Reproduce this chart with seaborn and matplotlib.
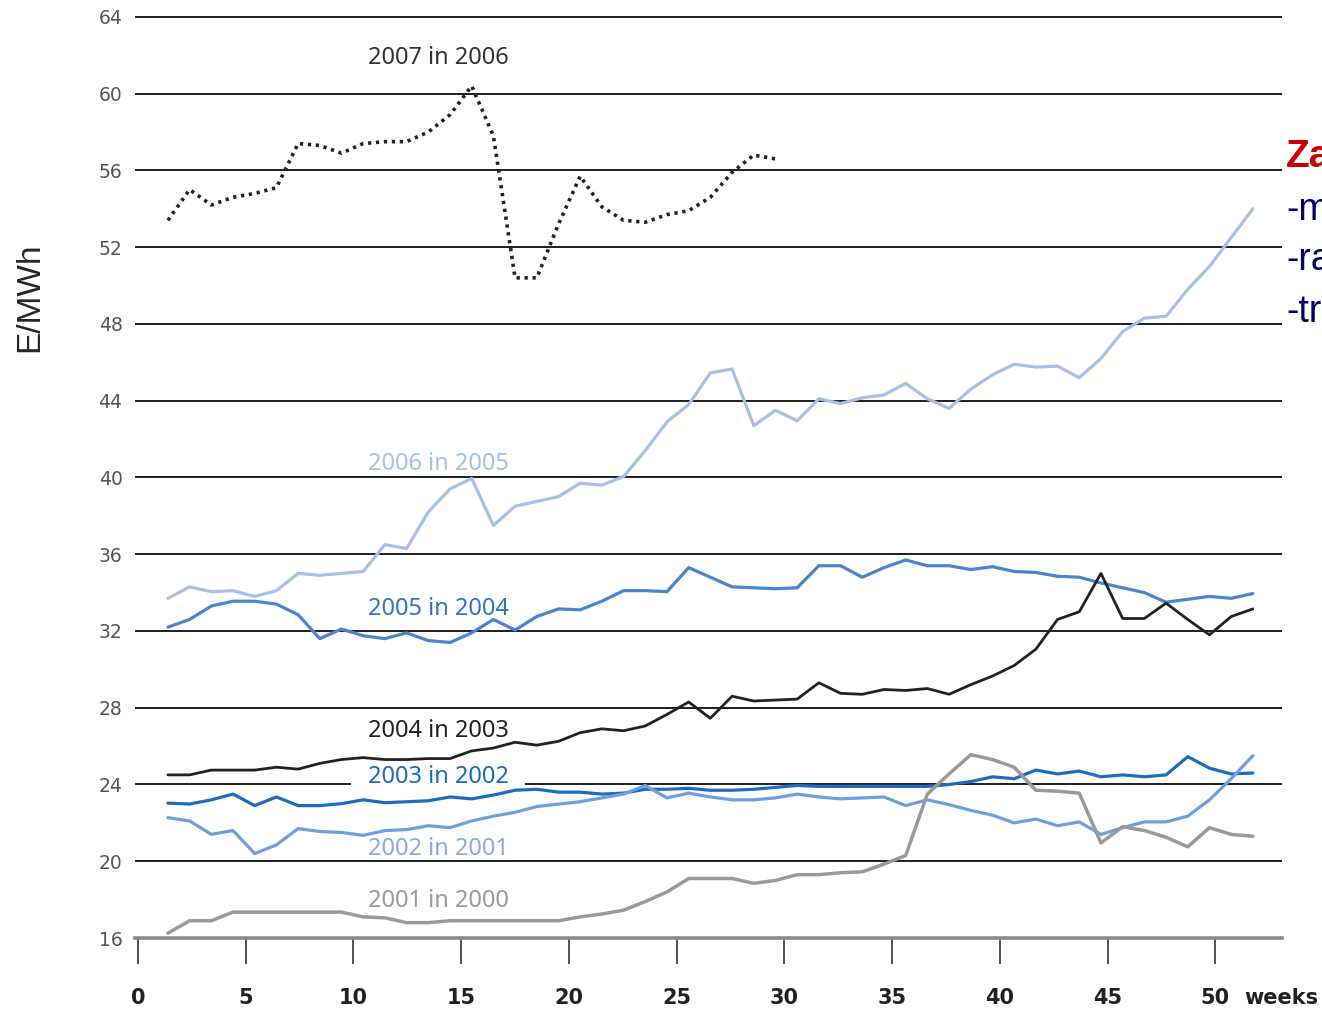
import numpy as np
import pandas as pd
import matplotlib
matplotlib.use("Agg")
import matplotlib.pyplot as plt
import seaborn as sns

# tedenske cene (E/MWh), ena vrsta na leto
weeks = np.arange(1, 52)

p2007 = [53.4, 55.0, 54.2, 54.6, 54.8, 55.1, 57.4, 57.3, 56.9, 57.4,
         57.5, 57.5, 58.0, 58.9, 60.4, 57.8, 50.4, 50.4, 53.2, 55.7,
         54.1, 53.4, 53.3, 53.7, 53.9, 54.6, 55.9, 56.8, 56.6]

p2006 = [33.7, 34.3, 34.05, 34.1, 33.8, 34.1, 35.0, 34.9, 35.0, 35.1,
         36.5, 36.3, 38.2, 39.4, 39.95, 37.5, 38.5, 38.75, 39.0, 39.7,
         39.6, 40.05, 41.4, 42.9, 43.8, 45.45, 45.65, 42.7, 43.5, 42.95,
         44.1, 43.85, 44.15, 44.3, 44.9, 44.1, 43.6, 44.6, 45.35, 45.9,
         45.75, 45.8, 45.2, 46.2, 47.6, 48.3, 48.4, 49.8, 51.0, 52.5, 54.0]

p2005 = [32.2, 32.6, 33.3, 33.55, 33.55, 33.4, 32.85, 31.6, 32.1, 31.75,
         31.6, 31.9, 31.5, 31.4, 31.9, 32.6, 32.05, 32.75, 33.15, 33.1,
         33.55, 34.1, 34.1, 34.05, 35.3, 34.8, 34.3, 34.25, 34.2, 34.25,
         35.4, 35.4, 34.8, 35.3, 35.7, 35.4, 35.4, 35.2, 35.35, 35.1,
         35.05, 34.85, 34.8, 34.5, 34.25, 34.0, 33.5, 33.65, 33.8, 33.7, 33.95]

p2004 = [24.5, 24.5, 24.75, 24.75, 24.75, 24.9, 24.8, 25.1, 25.3, 25.4,
         25.3, 25.3, 25.35, 25.35, 25.75, 25.9, 26.2, 26.05, 26.25, 26.7,
         26.9, 26.8, 27.05, 27.65, 28.3, 27.45, 28.6, 28.35, 28.4, 28.45,
         29.3, 28.75, 28.7, 28.95, 28.9, 29.0, 28.7, 29.2, 29.65, 30.2,
         31.05, 32.6, 33.0, 35.0, 32.65, 32.65, 33.45, 32.6, 31.8, 32.75, 33.15]

p2003 = [23.03, 22.98, 23.2, 23.5, 22.9, 23.35, 22.9, 22.9, 23.0, 23.2,
         23.05, 23.1, 23.15, 23.35, 23.25, 23.45, 23.7, 23.75, 23.6, 23.6,
         23.5, 23.55, 23.75, 23.75, 23.8, 23.7, 23.7, 23.75, 23.85, 23.95,
         23.9, 23.9, 23.9, 23.9, 23.9, 23.9, 24.0, 24.15, 24.4, 24.3,
         24.75, 24.55, 24.7, 24.4, 24.5, 24.4, 24.5, 25.45, 24.85, 24.55, 24.6]

p2002 = [22.27, 22.1, 21.4, 21.6, 20.4, 20.85, 21.7, 21.55, 21.5, 21.35,
         21.6, 21.65, 21.85, 21.75, 22.1, 22.35, 22.55, 22.85, 22.98, 23.1,
         23.3, 23.5, 23.95, 23.3, 23.55, 23.35, 23.2, 23.2, 23.3, 23.5,
         23.35, 23.25, 23.3, 23.35, 22.9, 23.2, 22.95, 22.65, 22.4, 22.0,
         22.2, 21.85, 22.05, 21.4, 21.75, 22.05, 22.05, 22.35, 23.2, 24.3, 25.5]

p2001 = [16.25, 16.9, 16.9, 17.35, 17.35, 17.35, 17.35, 17.35, 17.35, 17.1,
         17.05, 16.8, 16.8, 16.9, 16.9, 16.9, 16.9, 16.9, 16.9, 17.1,
         17.25, 17.45, 17.9, 18.4, 19.1, 19.1, 19.1, 18.85, 19.0, 19.3,
         19.3, 19.4, 19.45, 19.85, 20.3, 23.5, 24.55, 25.55, 25.3, 24.9,
         23.7, 23.65, 23.55, 20.95, 21.8, 21.6, 21.25, 20.75, 21.75, 21.4, 21.3]

labels = ["2007 in 2006", "2006 in 2005", "2005 in 2004", "2004 in 2003",
          "2003 in 2002", "2002 in 2001", "2001 in 2000"]
label_y = [61.86, 40.7, 33.15, 26.79, 24.40, 20.64, 17.93]

yticks = list(range(16, 65, 4))
xticks = list(range(0, 51, 5))

series = [
    (p2007, "#222222", (0, (0.9, 1.3)), 2.6),
    (p2006, "#a6c0e9", "-", 2.3),
    (p2005, "#4a86d0", "-", 2.3),
    (p2004, "#222222", "-", 2.0),
    (p2003, "#1f6dc0", "-", 2.3),
    (p2002, "#6e9fe0", "-", 2.3),
    (p2001, "#9a9a9a", "-", 2.5),
]
label_colors = ["#333333", "#a6c0e9", "#2f74c6", "#222222", "#1a6bbf", "#86abe6", "#9a9a9a"]

sns.set_style("white")
plt.rcParams["font.family"] = ["DejaVu Sans"]

fig = plt.figure(figsize=(13.22, 10.13), dpi=100)
ax = fig.add_axes([135 / 1322, 1 - 938 / 1013, 1147 / 1322, 928 / 1013])

# horizontalne crte
for yv in yticks[1:]:
    ax.axhline(yv, color="#1e1e1e", lw=1.4, zorder=1)

# tocke v izvirniku lezijo malo desno od oznak tednov
x_pos = weeks * 1.007 + 0.38
for vals, col, ls, lw in series:
    xs = x_pos[:len(vals)]
    sns.lineplot(x=xs, y=vals, ax=ax, color=col, linestyle=ls, linewidth=lw,
                 zorder=3, legend=False)

for txt, yv, col in zip(labels, label_y, label_colors):
    kw = {}
    if txt == "2003 in 2002":
        kw["bbox"] = dict(facecolor="white", edgecolor="none", pad=12)
    ax.text(13.92, yv, txt, color=col, fontsize=17, family="Noto Sans",
            ha="center", va="center", zorder=2, **kw)

ax.set_xlim(-0.14, 53.09)
ax.set_ylim(16, 64.36)
ax.set_yticks(yticks)
ax.set_yticklabels([str(v) for v in yticks], color="#555555", fontsize=13.5)
ax.set_xticks(xticks)
ax.set_xticklabels([str(v) for v in xticks], fontsize=15, fontweight="bold", color="#222222")
ax.tick_params(axis="y", left=False, length=0, pad=9)
ax.tick_params(axis="x", bottom=True, direction="out", length=19, width=1.2,
               color="#333333", pad=17)
ax.set_xlabel("")
ax.set_ylabel("")

for s in ["left", "right", "top"]:
    ax.spines[s].set_visible(False)
ax.spines["bottom"].set_color("#8a8a8a")
ax.spines["bottom"].set_linewidth(2.6)

fig.text(1281 / 1322, 1 - 998 / 1013, "weeks", fontsize=15, fontweight="bold",
         color="#222222", ha="center", va="center")
fig.text(30 / 1322, 1 - 297 / 1013, "E/MWh", rotation=90, fontsize=24,
         family="Liberation Sans", ha="center", va="center")

# odrezan tekst na desni (tudi v izvirniku je odrezan)
fig.text(1286 / 1322, 1 - 157 / 1013, "Za", color="#cc0000", fontsize=28,
         fontweight="bold", family="Liberation Sans", ha="left", va="center")
for txt, yp in [("-m", 210), ("-ra", 260), ("-tr", 312)]:
    fig.text(1286 / 1322, 1 - yp / 1013, txt, color="#000066", fontsize=27,
             family="Liberation Sans", ha="left", va="center")

fig.savefig("out.png", dpi=100)
